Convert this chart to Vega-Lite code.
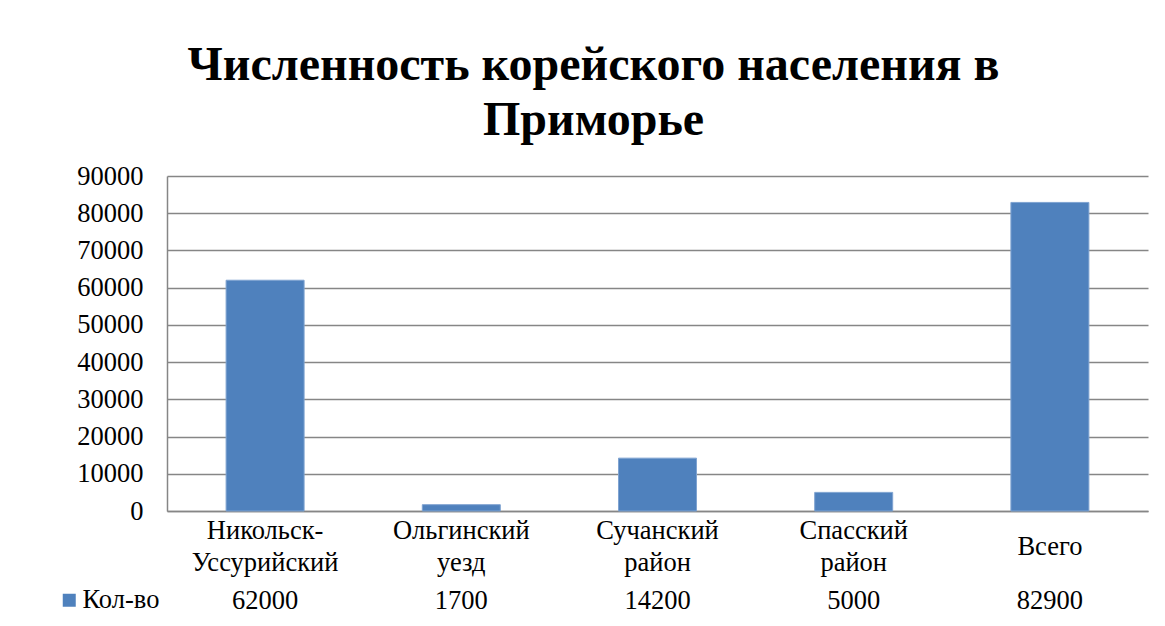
{
  "$schema": "https://vega.github.io/schema/vega-lite/v6.json",
  "background": "white",
  "padding": {"left": 7, "top": 42, "right": 10, "bottom": 5},
  "spacing": 10,
  "title": {
    "text": ["Численность корейского населения в", "Приморье"],
    "font": "Liberation Serif",
    "fontSize": 48,
    "fontWeight": "bold",
    "color": "black",
    "anchor": "middle",
    "frame": "group",
    "lineHeight": 55,
    "offset": 18,
    "dx": -64
  },
  "config": {
    "view": {"stroke": null},
    "font": "Liberation Serif"
  },
  "data": {
    "values": [
      {"cat": "Никольск-\nУссурийский", "series": "Кол-во", "value": 62000},
      {"cat": "Ольгинский\nуезд", "series": "Кол-во", "value": 1700},
      {"cat": "Сучанский\nрайон", "series": "Кол-во", "value": 14200},
      {"cat": "Спасский\nрайон", "series": "Кол-во", "value": 5000},
      {"cat": "Всего", "series": "Кол-во", "value": 82900}
    ]
  },
  "vconcat": [
    {
      "width": 981,
      "height": 335,
      "mark": {"type": "bar", "width": 78, "stroke": "#7FA3D1", "strokeWidth": 1},
      "encoding": {
        "x": {
          "field": "cat",
          "type": "nominal",
          "sort": null,
          "axis": {
            "title": null,
            "labelAngle": 0,
            "labelExpr": "split(datum.label, '\\n')",
            "labelFont": "Liberation Serif",
            "labelFontSize": 26.5,
            "labelColor": "black",
            "labelLineHeight": 32,
            "labelBaseline": {"condition": {"test": "datum.label == 'Всего'", "value": "line-top"}, "value": "middle"},
            "labelPadding": 19,
            "ticks": false,
            "domainColor": "#868686",
            "domainWidth": 1.5,
            "labelLimit": 0
          }
        },
        "y": {
          "field": "value",
          "type": "quantitative",
          "scale": {"domain": [0, 90000], "nice": false},
          "axis": {
            "title": null,
            "values": [0, 10000, 20000, 30000, 40000, 50000, 60000, 70000, 80000, 90000],
            "format": "d",
            "labelFont": "Liberation Serif",
            "labelFontSize": 26.5,
            "labelColor": "black",
            "labelPadding": 24,
            "ticks": false,
            "domainColor": "#868686",
            "domainWidth": 1.5,
            "gridColor": "#868686",
            "gridWidth": 1.5,
            "minExtent": 160,
            "maxExtent": 160
          }
        },
        "color": {
          "field": "series",
          "type": "nominal",
          "scale": {"range": ["#4F81BD"]},
          "legend": {
            "title": null,
            "orient": "none",
            "legendX": -111,
            "legendY": 411,
            "symbolType": "square",
            "symbolSize": 169,
            "symbolStrokeWidth": 0,
            "labelFont": "Liberation Serif",
            "labelFontSize": 26.5,
            "labelColor": "black",
            "labelOffset": 0
          }
        }
      }
    },
    {
      "width": 981,
      "height": 30,
      "mark": {"type": "text", "font": "Liberation Serif", "fontSize": 26.5, "color": "black", "baseline": "middle"},
      "encoding": {
        "x": {"field": "cat", "type": "nominal", "sort": null, "axis": null},
        "y": {"field": "series", "type": "nominal", "axis": {"title": null, "labels": false, "ticks": false, "domain": false, "minExtent": 160, "maxExtent": 160}},
        "text": {"field": "value", "type": "quantitative", "format": "d"}
      }
    }
  ]
}
